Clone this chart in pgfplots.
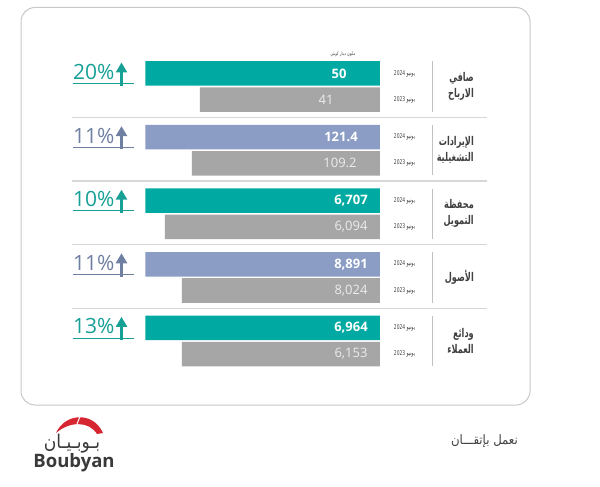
\documentclass[border=0pt]{standalone}
\usepackage{pgfplots}
\pgfplotsset{compat=1.18}
\usepackage{pgfplotstable}
\usepackage{fontspec}
\usetikzlibrary{arrows.meta}
\setmainfont{Open Sans}
\newfontfamily\arabicfont[Script=Arabic, FakeStretch=0.68]{DejaVu Sans}
\newfontfamily\arabicwide[Script=Arabic, FakeStretch=0.9]{DejaVu Sans}
\TeXXeTstate=1
\newcommand{\ar}[1]{{\arabicfont\beginR #1\endR}}
\newcommand{\arw}[1]{{\arabicwide\beginR #1\endR}}

\definecolor{tealbar}{RGB}{0,170,163}
\definecolor{bluebar}{RGB}{139,157,196}
\definecolor{graybar}{RGB}{166,166,166}
\definecolor{tealtxt}{RGB}{22,160,150}
\definecolor{bluetxt}{RGB}{112,128,162}
\definecolor{cattxt}{RGB}{64,64,64}
\definecolor{framecol}{RGB}{200,200,200}
\definecolor{sepcol}{RGB}{215,215,215}
\definecolor{logored}{RGB}{214,38,49}
\definecolor{val23}{RGB}{236,236,236}

% bar centres (pixel y) and drawn bar lengths (pixels, measured from the right edge at x=380)
\pgfplotstableread{
y      len
73.5   234.5
200.7  234.5
327.9  234.5
}\tealbars
\pgfplotstableread{
y      len
137.1  234.5
264.3  234.5
}\bluebars
\pgfplotstableread{
y      len
99.7   180
163.3  188
226.9  215
290.5  198
354.1  198
}\graybars

% #1 y centre of 2024 bar, #2 percent, #3 colour, #4 category, #5 val2024, #6 val2023, #7 x of val2024, #8 x of val2023
\newcommand{\grp}[8]{%
  \node[anchor=base west, text=#3, font=\fontsize{21}{21}\selectfont, inner sep=0pt] at (axis cs:73,#1+6) {#2\%};
  \draw[#3, line width=0.8pt] (axis cs:73,#1+10) -- (axis cs:134,#1+10);
  \draw[#3, line width=3.6pt, -{Triangle[width=11pt,length=10pt]}] (axis cs:121.5,#1+12.3) -- (axis cs:121.5,#1-11);
  \node[text=white, font=\fontsize{13}{13}\selectfont\bfseries] at (axis cs:#7,#1) {#5};
  \node[text=val23, font=\fontsize{13}{13}\selectfont] at (axis cs:#8,#1+26.2) {#6};
  \node[text=cattxt, font=\fontsize{6.5}{6.5}\selectfont] at (axis cs:404.5,#1) {\ar{يونيو \beginL2024\endL}};
  \node[text=cattxt, font=\fontsize{6.5}{6.5}\selectfont] at (axis cs:404.5,#1+26.2) {\ar{يونيو \beginL2023\endL}};
  \draw[graybar!70, line width=0.8pt] (axis cs:432.5,#1-12) -- (axis cs:432.5,#1+38.2);
  \node[anchor=east, align=right, text=cattxt, font=\fontsize{12}{16}\selectfont\bfseries, inner sep=0pt] at (axis cs:474,#1+13.1) {#4};
}

\begin{document}
\begin{tikzpicture}
% decoration axis in pixel coordinates
\begin{axis}[
  at={(0,0)}, anchor=south west,
  width=600pt, height=487pt, scale only axis,
  xmin=0, xmax=600, ymin=0, ymax=487, y dir=reverse,
  hide axis, clip=false,
]
\fill[white] (axis cs:0,0) rectangle (axis cs:600,487);
% frame
\draw[framecol, line width=1pt, rounded corners=14pt] (axis cs:21,7.5) rectangle (axis cs:530,405);
% horizontal separators
\draw[sepcol, line width=1.4pt] (axis cs:72,117.5) -- (axis cs:487,117.5);
\draw[sepcol, line width=1.4pt] (axis cs:72,181.1) -- (axis cs:487,181.1);
\draw[sepcol, line width=1.4pt] (axis cs:72,244.7) -- (axis cs:487,244.7);
\draw[sepcol, line width=1.4pt] (axis cs:72,308.3) -- (axis cs:487,308.3);
\end{axis}

% bar axis: x measured leftwards from pixel 380
\begin{axis}[
  at={(0,0)}, anchor=south west,
  width=600pt, height=487pt, scale only axis,
  xmin=-220, xmax=380, x dir=reverse,
  ymin=0, ymax=487, y dir=reverse,
  hide axis, clip=false,
]
\addplot[xbar, bar width=24.5, bar shift=0pt, fill=tealbar, draw=none] table[x=len, y=y] {\tealbars};
\addplot[xbar, bar width=24.5, bar shift=0pt, fill=bluebar, draw=none] table[x=len, y=y] {\bluebars};
\addplot[xbar, bar width=24.5, bar shift=0pt, fill=graybar, draw=none] table[x=len, y=y] {\graybars};
\end{axis}

% text layer in pixel coordinates
\begin{axis}[
  at={(0,0)}, anchor=south west,
  width=600pt, height=487pt, scale only axis,
  xmin=0, xmax=600, ymin=0, ymax=487, y dir=reverse,
  hide axis, clip=false,
]
\node[text=cattxt, font=\fontsize{5}{5}\selectfont] at (axis cs:343,54) {\ar{مليون دينار كويتي}};
\grp{73.5}{20}{tealtxt}{\ar{صافي}\\\ar{الارباح}}{50}{41}{339}{326}
\grp{137.1}{11}{bluetxt}{\ar{الإيرادات}\\\ar{التشغيلية}}{121.4}{109.2}{341}{340}
\grp{200.7}{10}{tealtxt}{\ar{محفظة}\\\ar{التمويل}}{6,707}{6,094}{351}{351}
\grp{264.3}{11}{bluetxt}{\ar{الأصول}}{8,891}{8,024}{351}{351}
\grp{327.9}{13}{tealtxt}{\ar{ودائع}\\\ar{العملاء}}{6,964}{6,153}{351}{351}
% slogan
\node[anchor=east, text=cattxt, font=\fontsize{13}{13}\selectfont, inner sep=0pt] at (axis cs:518,441) {\arw{نعمل بإتقـــان}};
% logo
\fill[logored] (axis cs:56,433) .. controls (axis cs:65,413) and (axis cs:93,411) .. (axis cs:103,433)
  -- (axis cs:97,434) .. controls (axis cs:89,421) and (axis cs:70,421) .. (axis cs:56,433) -- cycle;
\draw[white, line width=1pt] (axis cs:81,414) -- (axis cs:77,424);
\node[text=cattxt!90!black, font=\fontsize{19}{19}\selectfont] at (axis cs:72,444) {\arw{بـوبـيـان}};
\node[text=cattxt!90!black, font=\fontsize{18.5}{19}\selectfont\bfseries] at (axis cs:74,463) {Boubyan};
\end{axis}
\end{tikzpicture}
\end{document}
